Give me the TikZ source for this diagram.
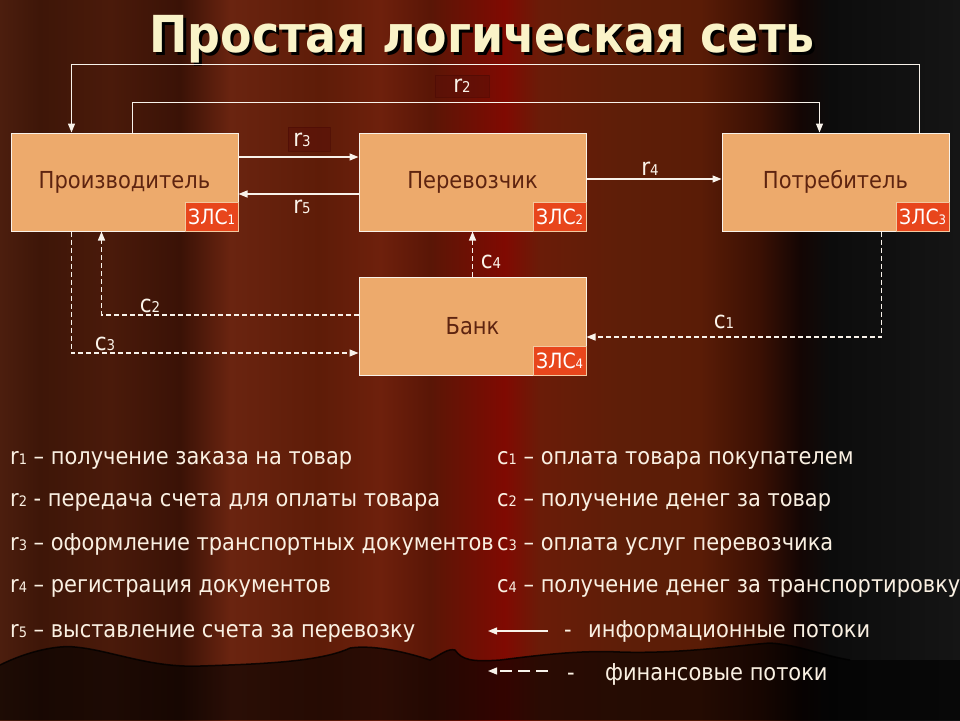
\documentclass[tikz,border=0pt]{standalone}
\usepackage{fontspec}
\usepackage{graphicx}
\setmainfont{DejaVu Sans Condensed}
\usetikzlibrary{arrows.meta}
\definecolor{boxfill}{HTML}{EDAA6C}
\definecolor{boxtext}{HTML}{5E2410}
\definecolor{tagfill}{HTML}{E8461C}
\definecolor{tagborder}{HTML}{F2C9A0}
\definecolor{linecol}{HTML}{F8F2EA}
\definecolor{labcol}{HTML}{FBF4EA}
\definecolor{legcol}{HTML}{FAF0E2}
\definecolor{titlecol}{HTML}{FAF3C8}
\definecolor{lbbox}{HTML}{5A1008}
\definecolor{lbedge}{HTML}{4A0A04}
\definecolor{bgA}{HTML}{4C1E0E}
\definecolor{bgB}{HTML}{3E1608}
\definecolor{bgC}{HTML}{4A1A0A}
\definecolor{bgD}{HTML}{3A1206}
\definecolor{bgE}{HTML}{6A2410}
\definecolor{bgF}{HTML}{5E1C08}
\definecolor{bgG}{HTML}{6E200C}
\definecolor{bgH}{HTML}{5A1606}
\definecolor{bgI}{HTML}{800A02}
\definecolor{bgJ}{HTML}{6A1C08}
\definecolor{bgK}{HTML}{5E1E08}
\definecolor{bgL}{HTML}{5A1C06}
\definecolor{bgM}{HTML}{3A1004}
\definecolor{bgN}{HTML}{140604}
\definecolor{bgO}{HTML}{0C0C0C}
\definecolor{bgP}{HTML}{151515}
\pgfdeclarehorizontalshading{curtain}{100bp}{color(0bp)=(bgA); color(25bp)=(bgA); color(27.08bp)=(bgB); color(30.73bp)=(bgC); color(34.38bp)=(bgD); color(36.98bp)=(bgE); color(41.67bp)=(bgF); color(44.79bp)=(bgG); color(47.4bp)=(bgH); color(51.3bp)=(bgI); color(53.13bp)=(bgJ); color(57.29bp)=(bgK); color(61.46bp)=(bgL); color(64.58bp)=(bgM); color(66.67bp)=(bgN); color(68.23bp)=(bgO); color(75bp)=(bgP); color(100bp)=(bgP)}
\newcommand\lo[1]{\scalebox{0.62}{#1}}
\newcommand\titletext{Простая логическая сеть}
\begin{document}
\begin{tikzpicture}[x=1pt,y=-1pt,
  box/.style={draw=linecol, line width=1pt, fill=boxfill, minimum width=227pt, minimum height=98pt, inner sep=0pt, text=boxtext, font=\fontsize{23.4}{23.4}\selectfont},
  tag/.style={fill=tagfill, draw=tagborder, line width=0.6pt, minimum width=53pt, minimum height=29pt, inner sep=0pt, text=white, font=\fontsize{21}{21}\selectfont, anchor=south east},
  info/.style={draw=linecol, line width=1.3pt, -{Triangle[length=9pt,width=7pt]}},
  fin/.style={info, dash pattern=on 5pt off 3pt},
  lbl/.style={text=labcol, font=\fontsize{24}{24}\selectfont, inner sep=0pt},
  lblbox/.style={fill=lbbox, draw=lbedge, line width=0.6pt, inner sep=0pt, opacity=0.55},
  leg/.style={text=legcol, font=\fontsize{23.3}{23.3}\selectfont, anchor=base west, inner sep=0pt}]
\useasboundingbox (0,0) rectangle (960,720);
\shade[shading=curtain] (0,0) rectangle (960,720);
% bottom curtain fringe
\fill[black, opacity=0.6] (0,665) .. controls (30,650) and (60,645) .. (75,647) .. controls (110,650) and (150,668) .. (200,666) .. controls (260,664) and (320,662) .. (350,648) .. controls (370,645) and (400,650) .. (430,660) .. controls (440,655) and (448,648) .. (455,650) .. controls (462,660) and (472,662) .. (500,660) .. controls (540,655) and (580,650) .. (620,652) .. controls (680,654) and (740,645) .. (770,643) .. controls (800,645) and (820,655) .. (850,660) -- (960,660) -- (960,720) -- (0,720) -- cycle;
\draw[black, line width=1.5pt, opacity=0.8] (0,665) .. controls (30,650) and (60,645) .. (75,647) .. controls (110,650) and (150,668) .. (200,666) .. controls (260,664) and (320,662) .. (350,648) .. controls (370,645) and (400,650) .. (430,660) .. controls (440,655) and (448,648) .. (455,650) .. controls (462,660) and (472,662) .. (500,660) .. controls (540,655) and (580,650) .. (620,652) .. controls (680,654) and (740,645) .. (770,643) .. controls (800,645) and (820,655) .. (850,660);
% title (with its shadow in the same node)
\node[font=\fontsize{51}{51}\selectfont\bfseries, text=titlecol, anchor=base, inner sep=0pt] (title) at (482,52) {\rlap{\hspace{3pt}\raisebox{-3pt}{\textcolor{black}{\titletext}}}\titletext};
% boxes
\node[box] (prod) at (124.5,182) {Производитель};
\node[box] (perev) at (472.5,182) {Перевозчик};
\node[box] (potr) at (835.5,182) {Потребитель};
\node[box] (bank) at (472.5,326) {Банк};
\node[tag] (z1) at (prod.south east) {ЗЛС\lo{1}};
\node[tag] (z2) at (perev.south east) {ЗЛС\lo{2}};
\node[tag] (z3) at (potr.south east) {ЗЛС\lo{3}};
\node[tag] (z4) at (bank.south east) {ЗЛС\lo{4}};
% label boxes
\node[lblbox, minimum width=54pt, minimum height=22pt] (r2box) at (462,86) {};
\node[lblbox, minimum width=42pt, minimum height=24pt] (r3box) at (309,139) {};
% information flows
\draw[info] ([xshift=-30pt]potr.north east) -- ++(0,-68) -| ([xshift=61pt]prod.north west);
\draw[info] ([xshift=122pt]prod.north west) -- ++(0,-30) -| ([xshift=98pt]potr.north west);
\draw[info] (prod.east |- 0,157) -- (perev.west |- 0,157);
\draw[info] (perev.west |- 0,194) -- (prod.east |- 0,194);
\draw[info] (perev.east |- 0,179) -- (potr.west |- 0,179);
% financial flows
\draw[fin] (bank.north) -- (perev.south);
\draw[fin] ([xshift=160pt]potr.south west) |- ([yshift=-11pt]bank.east);
\draw[fin] ([yshift=11pt]bank.west) -| ([xshift=91pt]prod.south west);
\draw[fin] ([xshift=61pt]prod.south west) |- ([yshift=-27pt]bank.west);
% labels
\node[lbl] (lr2) at (462,86) {r\lo{2}};
\node[lbl] (lr3) at (302,140) {r\lo{3}};
\node[lbl] (lr5) at (302,207) {r\lo{5}};
\node[lbl] (lr4) at (650,169) {r\lo{4}};
\node[lbl] (lc4) at (491,262) {c\lo{4}};
\node[lbl] (lc1) at (724,322) {c\lo{1}};
\node[lbl] (lc2) at (150,306) {c\lo{2}};
\node[lbl] (lc3) at (105,344) {c\lo{3}};
% legend left
\node[leg] (g1) at (10,464) {r\lo{1} – получение заказа на товар};
\node[leg] (g2) at (10,506) {r\lo{2} - передача счета для оплаты товара};
\node[leg] (g3) at (10,550) {r\lo{3} – оформление транспортных документов};
\node[leg] (g4) at (10,592) {r\lo{4} – регистрация документов};
\node[leg] (g5) at (10,637) {r\lo{5} – выставление счета за перевозку};
% legend right
\node[leg] (h1) at (497,464) {c\lo{1} – оплата товара покупателем};
\node[leg] (h2) at (497,506) {c\lo{2} – получение денег за товар};
\node[leg] (h3) at (497,550) {c\lo{3} – оплата услуг перевозчика};
\node[leg] (h4) at (497,592) {c\lo{4} – получение денег за транспортировку};
\coordinate (ia) at (548,631);
\coordinate (ib) at (488,631);
\draw[info] (ia) -- (ib);
\node[leg] (hd5) at (564,637) {-};
\node[leg] (h5) at (588,637) {информационные потоки};
\coordinate (fa) at (548,671);
\coordinate (fb) at (488,671);
\draw[info, dash pattern=on 12pt off 6pt] (fa) -- (fb);
\node[leg] (hd6) at (567,680) {-};
\node[leg] (h6) at (605,680) {финансовые потоки};
\end{tikzpicture}
\end{document}
